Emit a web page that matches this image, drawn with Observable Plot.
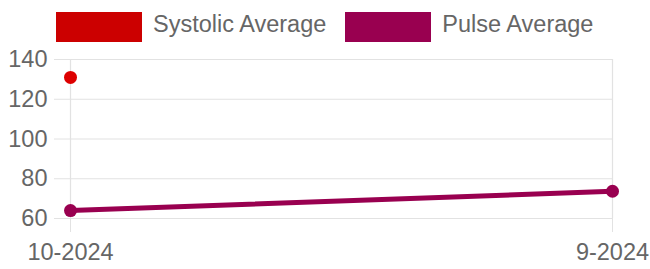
<!DOCTYPE html>
<html><head><meta charset="utf-8">
<script src="https://cdn.jsdelivr.net/npm/d3@7"></script>
<script src="https://cdn.jsdelivr.net/npm/@observablehq/plot@0.6"></script>
<style>
body{margin:0;background:#fff;font-family:"Liberation Sans",Arial,sans-serif;}
#wrap{position:relative;width:650px;height:269px;}
#legend{position:absolute;left:56px;top:12px;height:30px;display:flex;align-items:center;color:#666;font-size:23.5px;line-height:30px;}
.item{display:flex;align-items:center;margin-right:19px;}
.box{width:86px;height:30px;margin-right:11px;box-sizing:border-box;}
.item span{position:relative;top:-3px;}
#chart svg{display:block;}
</style></head><body>
<div id="wrap">
<div id="chart"></div>
<div id="legend"></div>
</div>
<script>
const months = ["10-2024", "9-2024"];
const systolic = [131, null];
const pulse = [64, 73.7];
const yTicks = [60, 80, 100, 120, 140];
const seriesNames = ["Systolic Average", "Pulse Average"];
const seriesColors = ["#cc0000", "#990050"];
const dotColors = ["#dd0000", "#990050"];

const legend = document.getElementById("legend");
seriesNames.forEach((n, i) => {
  const it = document.createElement("div");
  it.className = "item";
  const b = document.createElement("div");
  b.className = "box";
  b.style.background = seriesColors[i];
  b.style.border = "1px solid " + seriesColors[i];
  const t = document.createElement("span");
  t.textContent = n;
  it.appendChild(b); it.appendChild(t);
  legend.appendChild(it);
});

const data = months.map((m, i) => ({month: m, systolic: systolic[i], pulse: pulse[i]}));
const grid = "#e2e2e2";

const chart = Plot.plot({
  width: 650,
  height: 269,
  marginTop: 59,
  marginBottom: 51,
  marginLeft: 70,
  marginRight: 38,
  x: {type: "point", domain: months, padding: 0},
  y: {domain: [60, 140]},
  style: {fontFamily: '"Liberation Sans", Arial, sans-serif', fontSize: "23.5px", color: "#666", background: "#fff"},
  marks: [
    Plot.gridY(yTicks, {stroke: grid, strokeOpacity: 1, strokeWidth: 1.2}),
    Plot.gridX(months, {stroke: grid, strokeOpacity: 1, strokeWidth: 1.2}),
    Plot.axisY(yTicks, {tickSize: 16, tickPadding: 7, stroke: grid, strokeOpacity: 1, fill: "#666", label: null, fontSize: 23.5}),
    Plot.axisX(months, {tickSize: 14, tickPadding: 11, stroke: grid, strokeOpacity: 1, fill: "#666", label: null, fontSize: 23.5}),
    Plot.line(data, {x: "month", y: "systolic", stroke: seriesColors[0], strokeWidth: 5}),
    Plot.dot(data.filter(d => d.systolic != null), {x: "month", y: "systolic", r: 6.5, fill: dotColors[0], stroke: null}),
    Plot.line(data, {x: "month", y: "pulse", stroke: seriesColors[1], strokeWidth: 5}),
    Plot.dot(data.filter(d => d.pulse != null), {x: "month", y: "pulse", r: 6.5, fill: dotColors[1], stroke: null})
  ]
});
document.getElementById("chart").appendChild(chart);
</script>
</body></html>
